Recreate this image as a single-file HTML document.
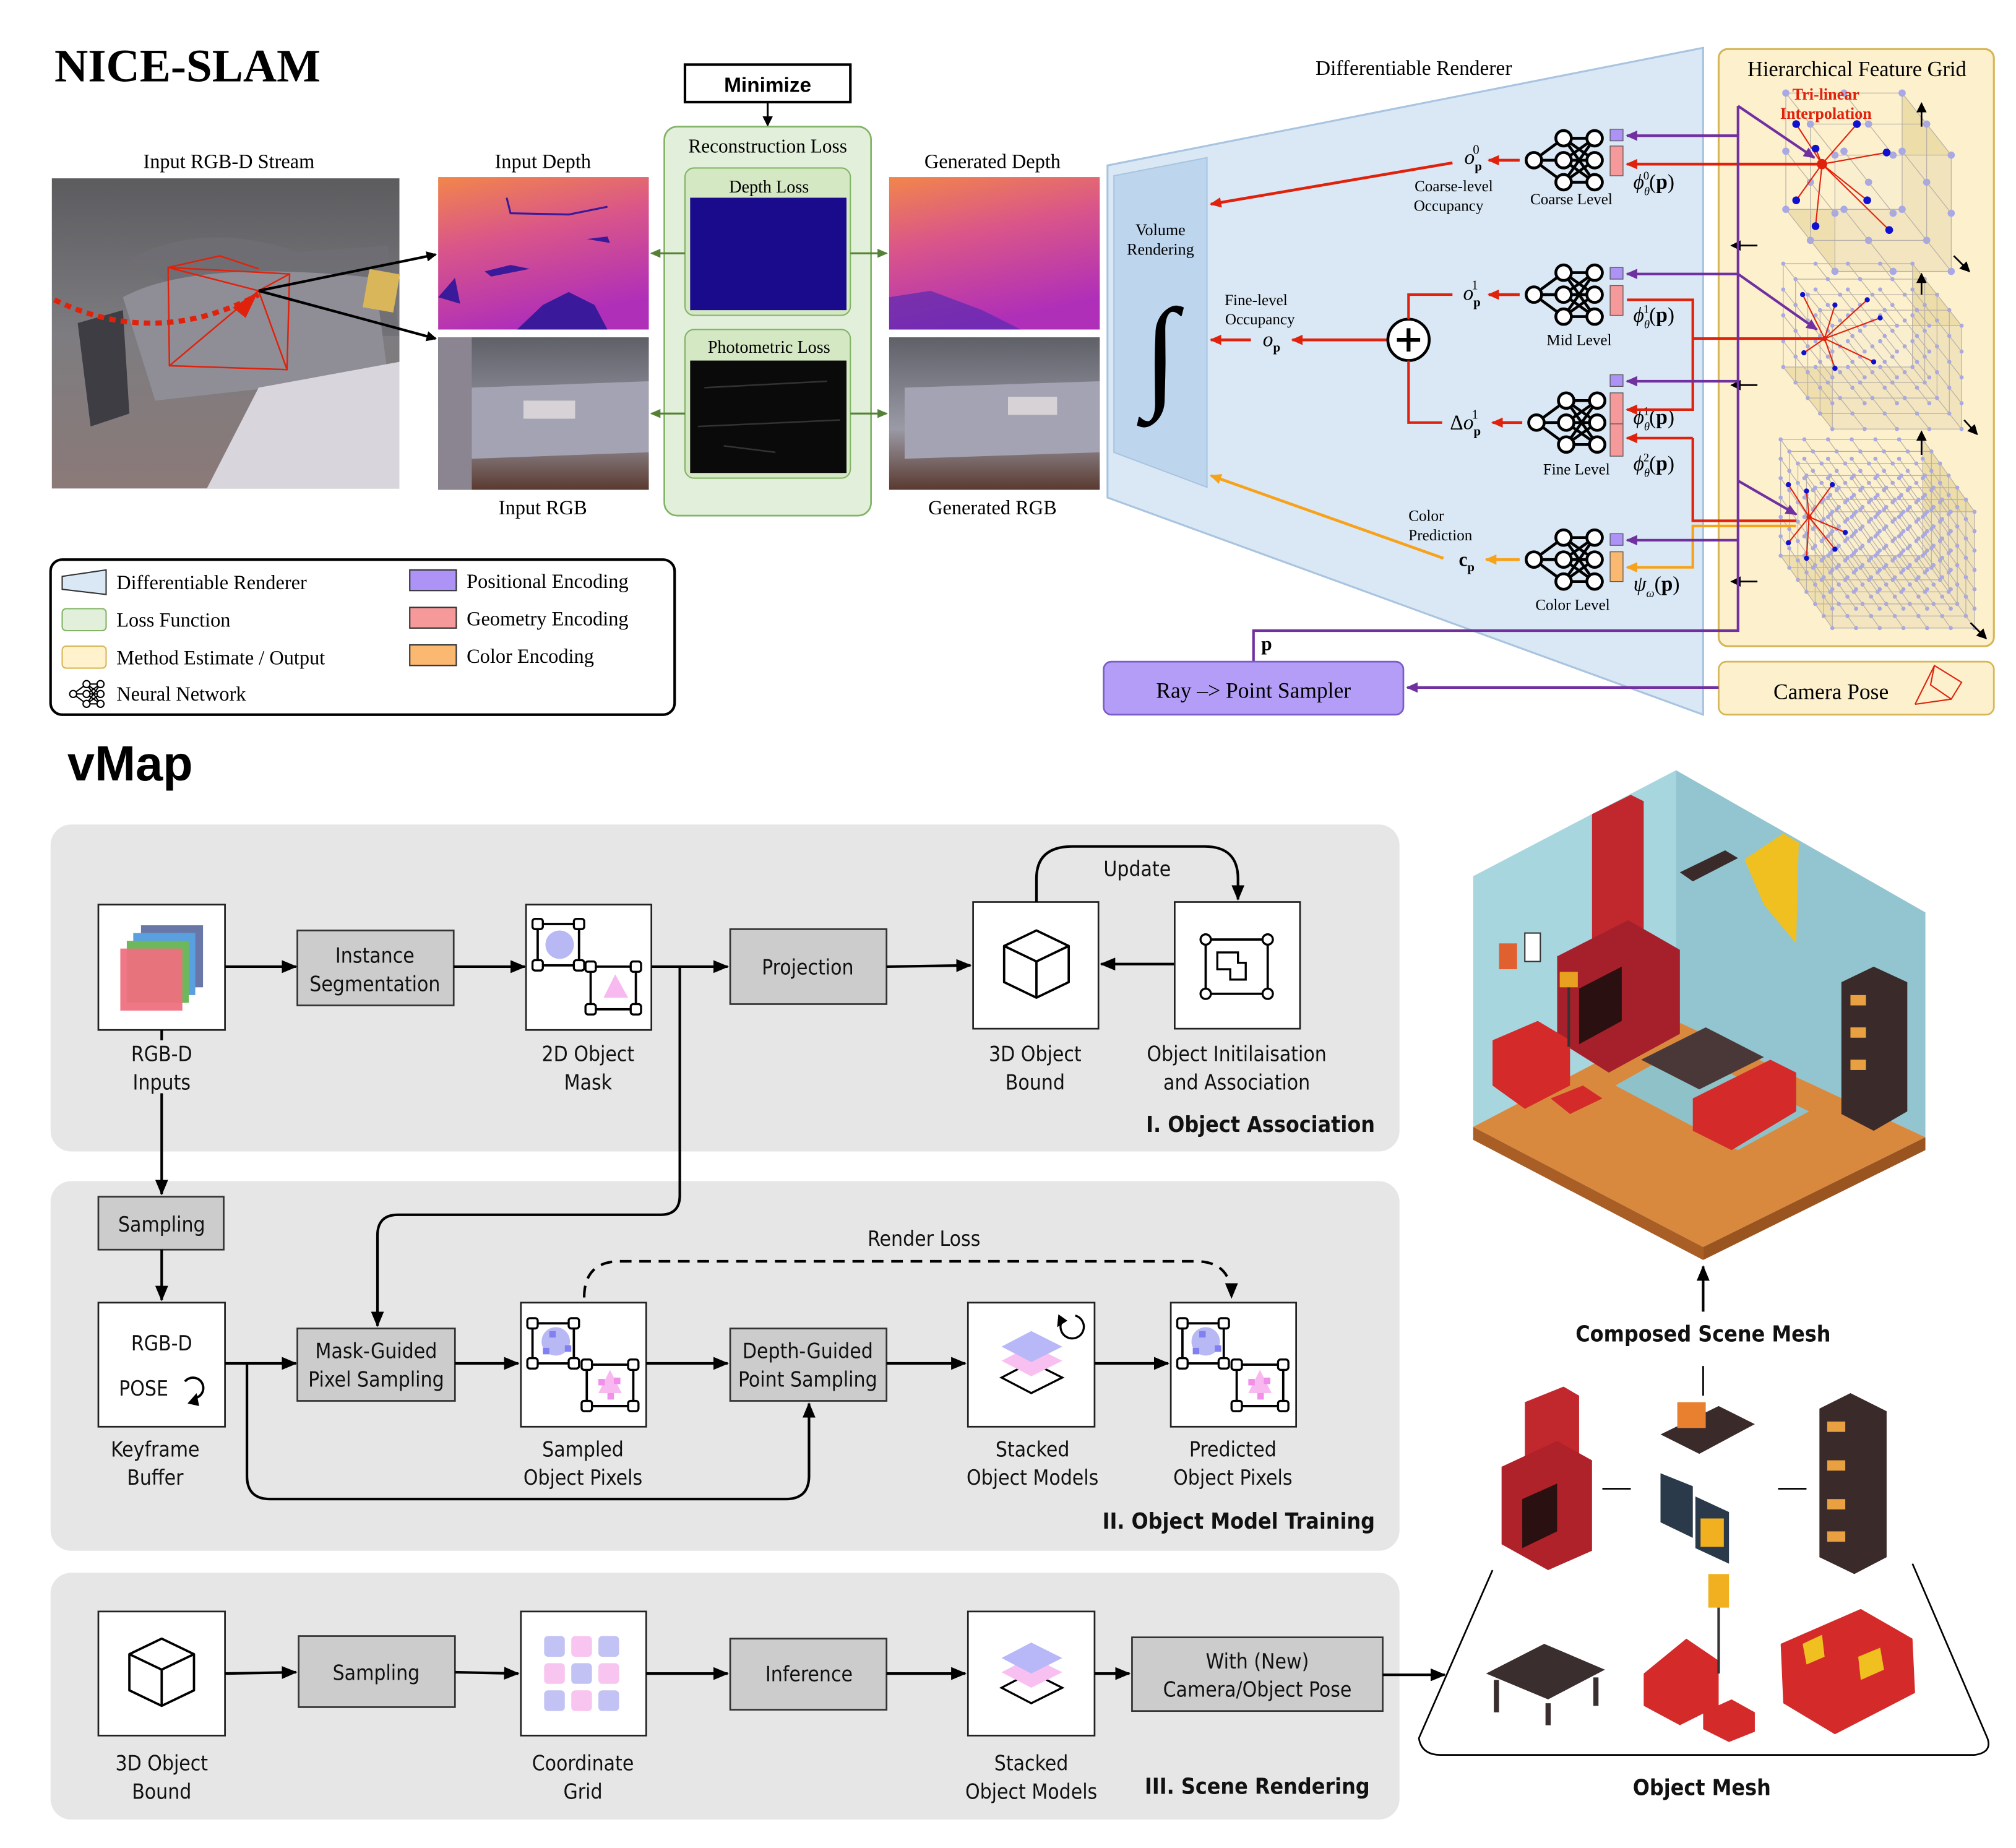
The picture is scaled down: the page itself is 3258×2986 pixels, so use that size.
<!DOCTYPE html>
<html><head><meta charset="utf-8"><style>
html,body{margin:0;padding:0;background:#fff}
svg{display:block}
.s{font-family:"Liberation Serif",serif}
.d{font-family:"DejaVu Sans Condensed","DejaVu Sans","Liberation Sans",sans-serif}
</style></head><body>
<svg id="m" xmlns="http://www.w3.org/2000/svg" width="3258" height="2986" viewBox="0 0 1560 1430">
<defs>
<marker id="ak" markerWidth="8" markerHeight="8" refX="7" refY="4" orient="auto" markerUnits="userSpaceOnUse"><path d="M0,0L8,4L0,8z" fill="#000"/></marker>
<marker id="ak2" markerWidth="12" markerHeight="10" refX="11" refY="5" orient="auto" markerUnits="userSpaceOnUse"><path d="M0,0L12,5L0,10z" fill="#000"/></marker>
<marker id="ar" markerWidth="9" markerHeight="8" refX="8" refY="4" orient="auto" markerUnits="userSpaceOnUse"><path d="M0,0L9,4L0,8z" fill="#e0220c"/></marker>
<marker id="ao" markerWidth="9" markerHeight="8" refX="8" refY="4" orient="auto" markerUnits="userSpaceOnUse"><path d="M0,0L9,4L0,8z" fill="#f7a21b"/></marker>
<marker id="ap" markerWidth="9" markerHeight="8" refX="8" refY="4" orient="auto" markerUnits="userSpaceOnUse"><path d="M0,0L9,4L0,8z" fill="#7030a0"/></marker>
<marker id="ag" markerWidth="8" markerHeight="7" refX="7" refY="3.5" orient="auto" markerUnits="userSpaceOnUse"><path d="M0,0L8,3.5L0,7z" fill="#548235"/></marker>
<linearGradient id="dep" x1="0" y1="0" x2="0.3" y2="1"><stop offset="0" stop-color="#f2864a"/><stop offset="0.45" stop-color="#d9558a"/><stop offset="1" stop-color="#b02fb8"/></linearGradient>
<linearGradient id="rgbd" x1="0" y1="0" x2="0" y2="1"><stop offset="0" stop-color="#5c5b5e"/><stop offset="0.5" stop-color="#7d7c80"/><stop offset="1" stop-color="#8b7a78"/></linearGradient>
<linearGradient id="rgb" x1="0" y1="0" x2="0" y2="1"><stop offset="0" stop-color="#5f6068"/><stop offset="0.6" stop-color="#9a9aa6"/><stop offset="1" stop-color="#5a3a30"/></linearGradient>
</defs>

<!-- ============ NICE-SLAM ============ -->
<text x="42" y="63" class="s" font-size="36" font-weight="bold">NICE-SLAM</text>
<text x="177" y="130" class="s" font-size="15.5" text-anchor="middle">Input RGB-D Stream</text>
<rect x="40" y="138" width="269" height="240" fill="url(#rgbd)"/>
<path d="M100,200 Q160,170 230,195 L300,190 L309,260 L200,260 Z" fill="#6f6e74" opacity="0.8"/>
<path d="M95,230 Q150,200 290,215 L300,290 L120,310 Z" fill="#8f8e96"/>
<path d="M200,300 L309,280 L309,378 L160,378 Z" fill="#d8d6dc"/>
<path d="M60,250 L95,240 L100,320 L70,330 Z" fill="#3e3d44"/>
<rect x="283" y="210" width="24" height="30" fill="#d9b65a" transform="rotate(10 295 225)"/>
<path d="M42,232 Q120,270 200,228" fill="none" stroke="#e0220c" stroke-width="4" stroke-dasharray="5,4"/>
<path d="M180,238 L200,225 L190,246z" fill="#e0220c"/>
<path d="M130,207 L224,212 L222,286 L131,283 Z M130,207 L200,225 L224,212 M200,225 L131,283 M200,225 L222,286 M130,207 L170,198 L200,208" fill="none" stroke="#e0220c" stroke-width="1.2"/>
<line x1="200" y1="225" x2="337" y2="197" stroke="#000" stroke-width="2" marker-end="url(#ak)"/>
<line x1="200" y1="225" x2="337" y2="262" stroke="#000" stroke-width="2" marker-end="url(#ak)"/>

<text x="420" y="130" class="s" font-size="15.5" text-anchor="middle">Input Depth</text>
<rect x="339" y="137" width="163" height="118" fill="url(#dep)"/>
<path d="M375,210 L395,205 L410,208 L380,214Z M339,230 L352,215 L356,235Z M420,236 L440,226 L460,236 L470,255 L400,255Z M454,185 L470,183 L472,188 Z" fill="#3a1a9a"/>
<path d="M392,153 L395,165 L440,166 L470,160" fill="none" stroke="#3a1a9a" stroke-width="1.5"/>
<rect x="339" y="261" width="163" height="118" fill="url(#rgb)"/>
<path d="M339,261 L365,261 L365,379 L339,379Z" fill="#8a8590"/>
<path d="M365,300 L502,295 L502,350 L365,355 Z" fill="#a3a3b3"/>
<rect x="405" y="310" width="40" height="14" fill="#d7d2d6"/>
<text x="420" y="398" class="s" font-size="15.5" text-anchor="middle">Input RGB</text>

<rect x="530" y="50" width="128" height="29" fill="#fff" stroke="#000" stroke-width="2"/>
<text x="594" y="71" font-family="Liberation Sans,sans-serif" font-weight="bold" font-size="16" text-anchor="middle">Minimize</text>
<line x1="594" y1="79" x2="594" y2="97" stroke="#000" stroke-width="1.5" marker-end="url(#ak)"/>
<rect x="514" y="98" width="160" height="301" rx="10" fill="#e2efda" stroke="#82b366" stroke-width="1.3"/>
<text x="594" y="118" class="s" font-size="15" text-anchor="middle">Reconstruction Loss</text>
<rect x="530" y="130" width="128" height="114" rx="7" fill="#d5e8c4" stroke="#82b366"/>
<text x="595" y="149" class="s" font-size="13.5" text-anchor="middle">Depth Loss</text>
<rect x="534" y="153" width="121" height="87" fill="#1a0a8c"/>
<rect x="530" y="255" width="128" height="115" rx="7" fill="#d5e8c4" stroke="#82b366"/>
<text x="595" y="273" class="s" font-size="13.5" text-anchor="middle">Photometric Loss</text>
<rect x="534" y="279" width="121" height="87" fill="#0a0a0a"/>
<path d="M545,300 L640,295 M540,330 L650,325 M560,345 L600,350" stroke="#333" stroke-width="1.2"/>
<line x1="530" y1="196" x2="504" y2="196" stroke="#548235" stroke-width="1.5" marker-end="url(#ag)"/>
<line x1="530" y1="320" x2="504" y2="320" stroke="#548235" stroke-width="1.5" marker-end="url(#ag)"/>
<line x1="658" y1="196" x2="686" y2="196" stroke="#548235" stroke-width="1.5" marker-end="url(#ag)"/>
<line x1="658" y1="320" x2="686" y2="320" stroke="#548235" stroke-width="1.5" marker-end="url(#ag)"/>

<text x="768" y="130" class="s" font-size="15.5" text-anchor="middle">Generated Depth</text>
<rect x="688" y="137" width="163" height="118" fill="url(#dep)"/>
<path d="M688,230 L720,225 L760,240 L790,255 L688,255Z" fill="#5a2ab0" opacity="0.7"/>
<rect x="688" y="261" width="163" height="118" fill="url(#rgb)"/>
<path d="M700,300 L851,295 L851,350 L700,355 Z" fill="#a3a3b3"/>
<rect x="780" y="307" width="38" height="14" fill="#d7d2d6"/>
<text x="768" y="398" class="s" font-size="15.5" text-anchor="middle">Generated RGB</text>

<!-- renderer -->
<polygon points="857,128 1318,37 1318,553 857,385" fill="#dae8f5" stroke="#a9c4e0" stroke-width="1.5"/>
<text x="1094" y="58" class="s" font-size="16" text-anchor="middle">Differentiable Renderer</text>
<polygon points="862,136 934,122 934,377 862,350" fill="#bdd6ee" stroke="#a9c4e0"/>
<text x="898" y="182" class="s" font-size="12.5" text-anchor="middle">Volume</text>
<text x="898" y="197" class="s" font-size="12.5" text-anchor="middle">Rendering</text>
<text x="898" y="305" class="s" font-size="96" font-style="italic" text-anchor="middle">∫</text>

<line x1="1124" y1="126" x2="937" y2="158" stroke="#e0220c" stroke-width="2.2" marker-end="url(#ar)"/>
<text x="1140" y="127" class="s" font-size="16" font-style="italic" text-anchor="middle">o<tspan font-size="10" font-style="normal" font-weight="bold" dy="5">p</tspan><tspan font-size="10" font-style="normal" dx="-7" dy="-13">0</tspan></text>
<line x1="1176" y1="124" x2="1152" y2="124" stroke="#e0220c" stroke-width="2.2" marker-end="url(#ar)"/>
<text x="1125" y="148" class="s" font-size="12" text-anchor="middle">Coarse-level</text>
<text x="1121" y="163" class="s" font-size="12" text-anchor="middle">Occupancy</text>
<text x="1216" y="158" class="s" font-size="12" text-anchor="middle">Coarse Level</text>

<text x="972" y="236" class="s" font-size="12" text-anchor="middle">Fine-level</text>
<text x="975" y="251" class="s" font-size="12" text-anchor="middle">Occupancy</text>
<text x="984" y="268" class="s" font-size="16" font-style="italic" text-anchor="middle">o<tspan font-size="10" font-style="normal" font-weight="bold" dy="4">p</tspan></text>
<line x1="968" y1="263" x2="937" y2="263" stroke="#e0220c" stroke-width="2.2" marker-end="url(#ar)"/>
<line x1="1074" y1="263" x2="1000" y2="263" stroke="#e0220c" stroke-width="2.2" marker-end="url(#ar)"/>
<circle cx="1090" cy="263" r="16" fill="#fff" stroke="#000" stroke-width="2.2"/>
<path d="M1090,254V272M1081,263H1099" stroke="#000" stroke-width="3"/>
<path d="M1090,247 V228 H1124 M1090,279 V327 H1116" fill="none" stroke="#e0220c" stroke-width="2"/>
<text x="1139" y="232" class="s" font-size="16" font-style="italic" text-anchor="middle">o<tspan font-size="10" font-style="normal" font-weight="bold" dy="5">p</tspan><tspan font-size="10" font-style="normal" dx="-7" dy="-13">1</tspan></text>
<line x1="1176" y1="228" x2="1152" y2="228" stroke="#e0220c" stroke-width="2.2" marker-end="url(#ar)"/>
<text x="1134" y="332" class="s" font-size="16" text-anchor="middle">Δ<tspan font-style="italic">o</tspan><tspan font-size="10" font-weight="bold" dy="5">p</tspan><tspan font-size="10" dx="-7" dy="-13">1</tspan></text>
<line x1="1178" y1="327" x2="1155" y2="327" stroke="#e0220c" stroke-width="2.2" marker-end="url(#ar)"/>
<text x="1222" y="267" class="s" font-size="12" text-anchor="middle">Mid Level</text>
<text x="1220" y="367" class="s" font-size="12" text-anchor="middle">Fine Level</text>

<line x1="1117" y1="432" x2="937" y2="368" stroke="#f7a21b" stroke-width="2.2" marker-end="url(#ao)"/>
<text x="1090" y="403" class="s" font-size="12">Color</text>
<text x="1090" y="418" class="s" font-size="12">Prediction</text>
<text x="1135" y="438" class="s" font-size="15" font-weight="bold" text-anchor="middle">c<tspan font-size="10" dy="4">p</tspan></text>
<line x1="1176" y1="433" x2="1150" y2="433" stroke="#f7a21b" stroke-width="2.2" marker-end="url(#ao)"/>
<text x="1217" y="472" class="s" font-size="12" text-anchor="middle">Color Level</text>

<g id="nns"></g>

<rect x="1246" y="100" width="10" height="9" fill="#ac93f5" stroke="#555" stroke-width="0.6"/>
<rect x="1246" y="113" width="10" height="23" fill="#f5999b" stroke="#555" stroke-width="0.6"/>
<rect x="1246" y="207" width="10" height="9" fill="#ac93f5" stroke="#555" stroke-width="0.6"/>
<rect x="1246" y="221" width="10" height="23" fill="#f5999b" stroke="#555" stroke-width="0.6"/>
<rect x="1246" y="290" width="10" height="9" fill="#ac93f5" stroke="#555" stroke-width="0.6"/>
<rect x="1246" y="304" width="10" height="49" fill="#f5999b" stroke="#555" stroke-width="0.6"/>
<line x1="1246" y1="328" x2="1256" y2="328" stroke="#555" stroke-width="0.6"/>
<rect x="1246" y="413" width="10" height="9" fill="#ac93f5" stroke="#555" stroke-width="0.6"/>
<rect x="1246" y="427" width="10" height="23" fill="#fbb870" stroke="#555" stroke-width="0.6"/>
<text x="1264" y="146" class="s" font-size="16"><tspan font-style="italic">ϕ</tspan><tspan font-size="9" dy="5" font-style="italic">θ</tspan><tspan font-size="9" dx="-5" dy="-12">0</tspan><tspan dy="7">(</tspan><tspan font-weight="bold">p</tspan>)</text>
<text x="1264" y="249" class="s" font-size="16"><tspan font-style="italic">ϕ</tspan><tspan font-size="9" dy="5" font-style="italic">θ</tspan><tspan font-size="9" dx="-5" dy="-12">1</tspan><tspan dy="7">(</tspan><tspan font-weight="bold">p</tspan>)</text>
<text x="1264" y="328" class="s" font-size="16"><tspan font-style="italic">ϕ</tspan><tspan font-size="9" dy="5" font-style="italic">θ</tspan><tspan font-size="9" dx="-5" dy="-12">1</tspan><tspan dy="7">(</tspan><tspan font-weight="bold">p</tspan>)</text>
<text x="1264" y="364" class="s" font-size="16"><tspan font-style="italic">ϕ</tspan><tspan font-size="9" dy="5" font-style="italic">θ</tspan><tspan font-size="9" dx="-5" dy="-12">2</tspan><tspan dy="7">(</tspan><tspan font-weight="bold">p</tspan>)</text>
<text x="1264" y="457" class="s" font-size="16"><tspan font-style="italic">ψ</tspan><tspan font-size="9" dy="5" font-style="italic">ω</tspan><tspan dy="-5">(</tspan><tspan font-weight="bold">p</tspan>)</text>

<!-- feature grid -->
<rect x="1330" y="38" width="213" height="462" rx="7" fill="#fdf0cd" stroke="#d6b656" stroke-width="1.5"/>
<text x="1437" y="59" class="s" font-size="16.5" text-anchor="middle">Hierarchical Feature Grid</text>
<g id="cubes"></g>
<text x="1413" y="77" class="s" font-size="12.5" font-weight="bold" fill="#e0220c" text-anchor="middle">Tri-linear</text>
<text x="1413" y="92" class="s" font-size="12.5" font-weight="bold" fill="#e0220c" text-anchor="middle">Interpolation</text>

<!-- red feature lines -->
<path d="M1410,127 H1259" fill="none" stroke="#e0220c" stroke-width="2.2" marker-end="url(#ar)"/>
<path d="M1410,262 H1310 V232 H1259 M1310,262 V317 H1259" fill="none" stroke="#e0220c" stroke-width="2" marker-end="url(#ar)"/>
<path d="M1310,339 H1259" fill="none" stroke="#e0220c" stroke-width="2" marker-end="url(#ar)"/>
<path d="M1390,403 H1310 V339" fill="none" stroke="#e0220c" stroke-width="2"/>
<path d="M1390,407 H1310 V439 H1259" fill="none" stroke="#f7a21b" stroke-width="2" marker-end="url(#ao)"/>
<!-- purple -->
<path d="M1345,82 V488 H970 V512" fill="none" stroke="#7030a0" stroke-width="2"/>
<path d="M1345,105 H1259" fill="none" stroke="#7030a0" stroke-width="2" marker-end="url(#ap)"/>
<path d="M1345,212 H1259" fill="none" stroke="#7030a0" stroke-width="2" marker-end="url(#ap)"/>
<path d="M1345,295 H1259" fill="none" stroke="#7030a0" stroke-width="2" marker-end="url(#ap)"/>
<path d="M1345,418 H1259" fill="none" stroke="#7030a0" stroke-width="2" marker-end="url(#ap)"/>
<path d="M1345,82 L1404,122" stroke="#7030a0" stroke-width="2" marker-end="url(#ap)"/>
<path d="M1345,212 L1406,255" stroke="#7030a0" stroke-width="2" marker-end="url(#ap)"/>
<path d="M1345,372 L1390,398" stroke="#7030a0" stroke-width="2" marker-end="url(#ap)"/>
<text x="976" y="503" class="s" font-size="15" font-weight="bold">p</text>
<rect x="854" y="512" width="232" height="41" rx="6" fill="#b39df6" stroke="#7b5cc9" stroke-width="1.3"/>
<text x="970" y="540" class="s" font-size="17" text-anchor="middle">Ray –&gt; Point Sampler</text>
<rect x="1330" y="512" width="213" height="41" rx="6" fill="#fdf0cd" stroke="#d6b656" stroke-width="1.3"/>
<text x="1417" y="541" class="s" font-size="17" text-anchor="middle">Camera Pose</text>
<path d="M1497,515 L1518,528 L1510,541 L1494,530 Z M1482,545 L1497,515 M1482,545 L1510,541" fill="none" stroke="#e0220c" stroke-width="1"/>
<line x1="1330" y1="532" x2="1089" y2="532" stroke="#7030a0" stroke-width="2" marker-end="url(#ap)"/>

<!-- legend -->
<rect x="39" y="433" width="483" height="120" rx="9" fill="#fff" stroke="#000" stroke-width="2"/>
<polygon points="48,446 82,441 82,460 48,456" fill="#dae8f5" stroke="#333"/>
<rect x="48" y="471" width="34" height="17" rx="3" fill="#e2efda" stroke="#82b366"/>
<rect x="48" y="500" width="34" height="17" rx="3" fill="#fff2cc" stroke="#d6b656"/>
<g id="lnn"></g>
<rect x="317" y="441" width="36" height="16" fill="#ac93f5" stroke="#333"/>
<rect x="317" y="470" width="36" height="16" fill="#f5999b" stroke="#333"/>
<rect x="317" y="499" width="36" height="16" fill="#fbb870" stroke="#333"/>
<g class="s" font-size="15.5">
<text x="90" y="456">Differentiable Renderer</text>
<text x="90" y="485">Loss Function</text>
<text x="90" y="514">Method Estimate / Output</text>
<text x="90" y="542">Neural Network</text>
<text x="361" y="455">Positional Encoding</text>
<text x="361" y="484">Geometry Encoding</text>
<text x="361" y="513">Color Encoding</text>
</g>

<!-- ============ vMap ============ -->
<text x="52" y="604" font-family="Liberation Sans,sans-serif" font-size="38" font-weight="bold">vMap</text>
<rect x="39" y="638" width="1044" height="253" rx="16" fill="#e6e6e6"/>
<rect x="39" y="914" width="1044" height="286" rx="16" fill="#e6e6e6"/>
<rect x="39" y="1217" width="1044" height="191" rx="16" fill="#e6e6e6"/>

<g class="d" font-size="16" text-anchor="middle" fill="#111">
<!-- row I -->
<rect x="76" y="700" width="98" height="97" fill="#fff" stroke="#222" stroke-width="1.3"/>
<rect x="109" y="716" width="48" height="48" fill="#6877a8"/>
<rect x="103" y="722" width="48" height="48" fill="#5aa0e0"/>
<rect x="98" y="728" width="48" height="48" fill="#6cb85a"/>
<rect x="93" y="734" width="48" height="48" fill="#ee7080" opacity="0.95"/>
<text x="125" y="821">RGB-D</text><text x="125" y="843">Inputs</text>
<rect x="230" y="720" width="121" height="58" fill="#cccccc" stroke="#333" stroke-width="1.3"/>
<text x="290" y="745">Instance</text><text x="290" y="767">Segmentation</text>
<line x1="174" y1="748" x2="229" y2="748" stroke="#000" stroke-width="2" marker-end="url(#ak2)"/>
<line x1="351" y1="748" x2="406" y2="748" stroke="#000" stroke-width="2" marker-end="url(#ak2)"/>
<rect x="407" y="700" width="97" height="97" fill="#fff" stroke="#222" stroke-width="1.3"/>
<circle cx="433" cy="731" r="11" fill="#b8b8f4"/>
<rect x="416" y="715" width="32" height="32" fill="none" stroke="#000" stroke-width="1.8"/>
<polygon points="476,754 467,772 486,772" fill="#f8b8f0"/>
<rect x="457" y="748" width="35" height="33" fill="none" stroke="#000" stroke-width="1.8"/>
<g fill="#fff" stroke="#000" stroke-width="1.6"><rect x="412" y="711" width="8" height="8" rx="2"/><rect x="444" y="711" width="8" height="8" rx="2"/><rect x="412" y="743" width="8" height="8" rx="2"/><rect x="444" y="743" width="8" height="8" rx="2"/><rect x="453" y="744" width="8" height="8" rx="2"/><rect x="488" y="744" width="8" height="8" rx="2"/><rect x="453" y="777" width="8" height="8" rx="2"/><rect x="488" y="777" width="8" height="8" rx="2"/></g>
<text x="455" y="821">2D Object</text><text x="455" y="843">Mask</text>
<line x1="504" y1="748" x2="563" y2="748" stroke="#000" stroke-width="2" marker-end="url(#ak2)"/>
<rect x="565" y="719" width="121" height="58" fill="#cccccc" stroke="#333" stroke-width="1.3"/>
<text x="625" y="754">Projection</text>
<line x1="686" y1="748" x2="751" y2="747" stroke="#000" stroke-width="2" marker-end="url(#ak2)"/>
<rect x="753" y="698" width="97" height="98" fill="#fff" stroke="#222" stroke-width="1.3"/>
<path d="M777,732 L802,720 L827,732 L827,760 L802,772 L777,760 Z M777,732 L802,744 L827,732 M802,744 V772" fill="none" stroke="#000" stroke-width="1.8" stroke-linejoin="round"/>
<text x="801" y="821">3D Object</text><text x="801" y="843">Bound</text>
<line x1="909" y1="746" x2="852" y2="746" stroke="#000" stroke-width="2" marker-end="url(#ak2)"/>
<rect x="909" y="698" width="97" height="98" fill="#fff" stroke="#222" stroke-width="1.3"/>
<rect x="933" y="727" width="48" height="42" fill="none" stroke="#000" stroke-width="1.8"/>
<path d="M942,737 H958 V745 H964 V758 H952 V750 H942 Z" fill="none" stroke="#000" stroke-width="1.6"/>
<g fill="#fff" stroke="#000" stroke-width="1.6"><circle cx="933" cy="727" r="4"/><circle cx="981" cy="727" r="4"/><circle cx="933" cy="769" r="4"/><circle cx="981" cy="769" r="4"/></g>
<text x="957" y="821">Object Initilaisation</text><text x="957" y="843">and Association</text>
<path d="M802,698 V680 Q802,655 830,655 H932 Q958,655 958,680 V696" fill="none" stroke="#000" stroke-width="2" marker-end="url(#ak2)"/>
<text x="880" y="678">Update</text>
<text x="1064" y="876" text-anchor="end" font-weight="bold" font-size="17">I. Object Association</text>

<!-- row II -->
<line x1="125" y1="846" x2="125" y2="924" stroke="#000" stroke-width="2" marker-end="url(#ak2)"/>
<line x1="125" y1="797" x2="125" y2="805" stroke="#000" stroke-width="2"/>
<rect x="76" y="926" width="97" height="41" fill="#cccccc" stroke="#333" stroke-width="1.3"/>
<text x="125" y="953">Sampling</text>
<line x1="125" y1="967" x2="125" y2="1006" stroke="#000" stroke-width="2" marker-end="url(#ak2)"/>
<rect x="76" y="1008" width="98" height="96" fill="#fff" stroke="#222" stroke-width="1.3"/>
<text x="125" y="1045">RGB-D</text>
<text x="111" y="1080">POSE</text>
<path d="M150,1082 A8,8 0 1 0 143,1069" fill="none" stroke="#000" stroke-width="1.8"/>
<path d="M145,1086 L152,1078 L154,1088Z" fill="#000"/>
<text x="120" y="1127">Keyframe</text><text x="120" y="1149">Buffer</text>
<path d="M526,748 V925 Q526,940 511,940 H308 Q292,940 292,956 V1026" fill="none" stroke="#000" stroke-width="2" marker-end="url(#ak2)"/>
<line x1="174" y1="1055" x2="229" y2="1055" stroke="#000" stroke-width="2" marker-end="url(#ak2)"/>
<rect x="230" y="1028" width="122" height="56" fill="#cccccc" stroke="#333" stroke-width="1.3"/>
<text x="291" y="1051">Mask-Guided</text><text x="291" y="1073">Pixel Sampling</text>
<line x1="352" y1="1055" x2="401" y2="1055" stroke="#000" stroke-width="2" marker-end="url(#ak2)"/>
<rect x="403" y="1008" width="97" height="96" fill="#fff" stroke="#222" stroke-width="1.3"/>
<circle cx="430" cy="1038" r="11" fill="#b8b8f4"/>
<g fill="#8080f0"><rect x="425" y="1030" width="5" height="5"/><rect x="420" y="1043" width="5" height="5"/><rect x="437" y="1041" width="5" height="5"/></g>
<rect x="412" y="1024" width="32" height="31" fill="none" stroke="#000" stroke-width="1.8"/>
<polygon points="472,1060 463,1078 481,1078" fill="#f8b8f0"/>
<g fill="#f090e8"><rect x="463" y="1067" width="5" height="5"/><rect x="475" y="1066" width="5" height="5"/><rect x="470" y="1078" width="5" height="5"/></g>
<rect x="454" y="1056" width="36" height="32" fill="none" stroke="#000" stroke-width="1.8"/>
<g fill="#fff" stroke="#000" stroke-width="1.6"><rect x="408" y="1020" width="8" height="8" rx="2"/><rect x="440" y="1020" width="8" height="8" rx="2"/><rect x="408" y="1051" width="8" height="8" rx="2"/><rect x="440" y="1051" width="8" height="8" rx="2"/><rect x="450" y="1052" width="8" height="8" rx="2"/><rect x="486" y="1052" width="8" height="8" rx="2"/><rect x="450" y="1084" width="8" height="8" rx="2"/><rect x="486" y="1084" width="8" height="8" rx="2"/></g>
<text x="451" y="1127">Sampled</text><text x="451" y="1149">Object Pixels</text>
<line x1="500" y1="1055" x2="563" y2="1055" stroke="#000" stroke-width="2" marker-end="url(#ak2)"/>
<rect x="565" y="1028" width="121" height="56" fill="#cccccc" stroke="#333" stroke-width="1.3"/>
<text x="625" y="1051">Depth-Guided</text><text x="625" y="1073">Point Sampling</text>
<path d="M191,1055 V1142 Q191,1160 209,1160 H608 Q626,1160 626,1142 V1086" fill="none" stroke="#000" stroke-width="2" marker-end="url(#ak2)"/>
<line x1="686" y1="1055" x2="747" y2="1055" stroke="#000" stroke-width="2" marker-end="url(#ak2)"/>
<rect x="749" y="1008" width="98" height="96" fill="#fff" stroke="#222" stroke-width="1.3"/>
<path d="M775,1066 L798,1054 L822,1066 L798,1078 Z" fill="none" stroke="#000" stroke-width="1.6"/>
<path d="M775,1053 L798,1041 L822,1053 L798,1065 Z" fill="#f8c0f0"/>
<path d="M775,1042 L798,1030 L822,1042 L798,1054 Z" fill="#b8b8f8"/>
<path d="M832,1018 A9,9 0 1 1 822,1022" fill="none" stroke="#000" stroke-width="1.6"/>
<path d="M819,1017 L826,1022 L818,1027Z" fill="#000"/>
<text x="799" y="1127">Stacked</text><text x="799" y="1149">Object Models</text>
<line x1="847" y1="1055" x2="904" y2="1055" stroke="#000" stroke-width="2" marker-end="url(#ak2)"/>
<rect x="906" y="1008" width="97" height="96" fill="#fff" stroke="#222" stroke-width="1.3"/>
<circle cx="933" cy="1038" r="11" fill="#b8b8f4"/>
<g fill="#8080f0"><rect x="928" y="1030" width="5" height="5"/><rect x="923" y="1043" width="5" height="5"/><rect x="940" y="1041" width="5" height="5"/></g>
<rect x="915" y="1024" width="32" height="31" fill="none" stroke="#000" stroke-width="1.8"/>
<polygon points="975,1060 966,1078 984,1078" fill="#f8b8f0"/>
<g fill="#f090e8"><rect x="966" y="1067" width="5" height="5"/><rect x="978" y="1066" width="5" height="5"/><rect x="973" y="1078" width="5" height="5"/></g>
<rect x="957" y="1056" width="36" height="32" fill="none" stroke="#000" stroke-width="1.8"/>
<g fill="#fff" stroke="#000" stroke-width="1.6"><rect x="911" y="1020" width="8" height="8" rx="2"/><rect x="943" y="1020" width="8" height="8" rx="2"/><rect x="911" y="1051" width="8" height="8" rx="2"/><rect x="943" y="1051" width="8" height="8" rx="2"/><rect x="953" y="1052" width="8" height="8" rx="2"/><rect x="989" y="1052" width="8" height="8" rx="2"/><rect x="953" y="1084" width="8" height="8" rx="2"/><rect x="989" y="1084" width="8" height="8" rx="2"/></g>
<text x="954" y="1127">Predicted</text><text x="954" y="1149">Object Pixels</text>
<path d="M452,1004 Q452,976 480,976 H925 Q953,976 953,1004" fill="none" stroke="#000" stroke-width="2" stroke-dasharray="9,6" marker-end="url(#ak2)"/>
<text x="715" y="964">Render Loss</text>
<text x="1064" y="1183" text-anchor="end" font-weight="bold" font-size="17">II. Object Model Training</text>

<!-- row III -->
<rect x="76" y="1247" width="98" height="96" fill="#fff" stroke="#222" stroke-width="1.3"/>
<path d="M100,1280 L125,1268 L150,1280 L150,1308 L125,1320 L100,1308 Z M100,1280 L125,1292 L150,1280 M125,1292 V1320" fill="none" stroke="#000" stroke-width="1.8" stroke-linejoin="round"/>
<text x="125" y="1370">3D Object</text><text x="125" y="1392">Bound</text>
<line x1="174" y1="1295" x2="229" y2="1294" stroke="#000" stroke-width="2" marker-end="url(#ak2)"/>
<rect x="231" y="1266" width="121" height="55" fill="#cccccc" stroke="#333" stroke-width="1.3"/>
<text x="291" y="1300">Sampling</text>
<line x1="352" y1="1294" x2="401" y2="1295" stroke="#000" stroke-width="2" marker-end="url(#ak2)"/>
<rect x="403" y="1247" width="97" height="96" fill="#fff" stroke="#222" stroke-width="1.3"/>
<g id="cgrid"></g>
<text x="451" y="1370">Coordinate</text><text x="451" y="1392">Grid</text>
<line x1="500" y1="1295" x2="563" y2="1295" stroke="#000" stroke-width="2" marker-end="url(#ak2)"/>
<rect x="565" y="1268" width="121" height="55" fill="#cccccc" stroke="#333" stroke-width="1.3"/>
<text x="626" y="1301">Inference</text>
<line x1="686" y1="1295" x2="747" y2="1295" stroke="#000" stroke-width="2" marker-end="url(#ak2)"/>
<rect x="749" y="1247" width="98" height="96" fill="#fff" stroke="#222" stroke-width="1.3"/>
<path d="M775,1306 L798,1294 L822,1306 L798,1318 Z" fill="none" stroke="#000" stroke-width="1.6"/>
<path d="M775,1294 L798,1282 L822,1294 L798,1306 Z" fill="#f8c0f0"/>
<path d="M775,1283 L798,1271 L822,1283 L798,1295 Z" fill="#b8b8f8"/>
<text x="798" y="1370">Stacked</text><text x="798" y="1392">Object Models</text>
<line x1="847" y1="1295" x2="874" y2="1295" stroke="#000" stroke-width="2" marker-end="url(#ak2)"/>
<rect x="876" y="1267" width="194" height="57" fill="#cccccc" stroke="#333" stroke-width="1.3"/>
<text x="973" y="1291">With (New)</text><text x="973" y="1313">Camera/Object Pose</text>
<line x1="1070" y1="1296" x2="1118" y2="1296" stroke="#000" stroke-width="2" marker-end="url(#ak2)"/>
<text x="1060" y="1388" text-anchor="end" font-weight="bold" font-size="17">III. Scene Rendering</text>

<text x="1318" y="1038" font-weight="bold" font-size="17">Composed Scene Mesh</text>
<text x="1317" y="1389" font-weight="bold" font-size="17">Object Mesh</text>
</g>
<line x1="1318" y1="1015" x2="1318" y2="980" stroke="#000" stroke-width="2" marker-end="url(#ak2)"/>

<!-- room -->
<polygon points="1140,678 1297,596 1297,790 1140,872" fill="#a7d6df"/>
<polygon points="1297,596 1490,706 1490,880 1297,790" fill="#92c5d0"/>
<polygon points="1140,872 1297,790 1490,880 1318,965" fill="#d8893e"/>
<polygon points="1140,872 1318,965 1318,975 1140,882" fill="#a85e25"/>
<polygon points="1318,965 1490,880 1490,890 1318,975" fill="#9a5420"/>
<polygon points="1250,840 1300,812 1400,860 1345,890" fill="#8fc2c8"/>
<polygon points="1232,630 1262,615 1272,620 1272,760 1232,780" fill="#c0282d"/>
<polygon points="1205,740 1260,712 1300,735 1300,800 1245,830 1205,805" fill="#a5202a"/>
<polygon points="1222,765 1255,748 1255,790 1222,808" fill="#2a1010"/>
<polygon points="1270,820 1320,795 1365,818 1315,843" fill="#4a3838"/>
<polygon points="1310,850 1370,820 1390,830 1390,860 1340,890 1310,875" fill="#d42a2a"/>
<polygon points="1155,805 1190,790 1215,805 1215,840 1180,858 1155,840" fill="#d42a2a"/>
<polygon points="1200,850 1225,840 1240,850 1215,862" fill="#d42a2a"/>
<polygon points="1425,760 1450,748 1476,760 1476,860 1450,875 1425,862" fill="#3a2a2a"/>
<g fill="#e8a040"><rect x="1432" y="770" width="12" height="8"/><rect x="1432" y="795" width="12" height="8"/><rect x="1432" y="820" width="12" height="8"/></g>
<polygon points="1350,665 1380,645 1392,652 1390,730 1365,700" fill="#f0c020"/>
<polygon points="1300,675 1335,658 1345,664 1310,682" fill="#3a2a2a"/>
<rect x="1160" y="730" width="14" height="20" fill="#e06030"/>
<rect x="1180" y="722" width="12" height="22" fill="#fff" stroke="#333"/>
<rect x="1207" y="752" width="14" height="12" fill="#e8a020"/>
<line x1="1214" y1="764" x2="1214" y2="810" stroke="#333" stroke-width="2"/>

<!-- object mesh -->
<path d="M1155,1215 L1098,1345 Q1100,1358 1115,1358 L1528,1358 Q1542,1356 1538,1345 L1480,1210" fill="none" stroke="#000" stroke-width="1.3"/>
<line x1="1240" y1="1152" x2="1262" y2="1152" stroke="#000" stroke-width="1.3"/>
<line x1="1376" y1="1152" x2="1398" y2="1152" stroke="#000" stroke-width="1.3"/>
<line x1="1318" y1="1057" x2="1318" y2="1080" stroke="#000" stroke-width="1.3"/>
<polygon points="1180,1085 1210,1073 1222,1080 1222,1140 1180,1158" fill="#c0282d"/>
<polygon points="1162,1135 1205,1115 1232,1130 1232,1200 1198,1215 1162,1195" fill="#b0222a"/>
<polygon points="1178,1160 1205,1148 1205,1185 1178,1198" fill="#2a1010"/>
<polygon points="1285,1110 1330,1088 1358,1102 1315,1125" fill="#3a2a2a"/>
<rect x="1298" y="1085" width="22" height="20" fill="#e88030"/>
<polygon points="1285,1140 1310,1150 1310,1190 1285,1178" fill="#2a3a4a"/>
<polygon points="1312,1158 1338,1170 1338,1210 1312,1198" fill="#2a3a4a"/>
<rect x="1316" y="1175" width="18" height="22" fill="#f0b020"/>
<polygon points="1408,1090 1432,1078 1460,1092 1460,1205 1435,1218 1408,1205" fill="#3a2a2a"/>
<g fill="#e8a040"><rect x="1414" y="1100" width="14" height="8"/><rect x="1414" y="1130" width="14" height="8"/><rect x="1414" y="1160" width="14" height="8"/><rect x="1414" y="1185" width="14" height="8"/></g>
<polygon points="1150,1295 1195,1272 1242,1292 1198,1315" fill="#3a2e2e"/>
<path d="M1158,1300 V1325 M1198,1318 V1335 M1235,1298 V1320" stroke="#3a2e2e" stroke-width="4"/>
<polygon points="1272,1295 1305,1268 1330,1285 1330,1320 1300,1335 1272,1320" fill="#d42a2a"/>
<polygon points="1318,1325 1340,1315 1358,1325 1358,1340 1338,1348 1318,1338" fill="#d42a2a"/>
<rect x="1322" y="1218" width="16" height="26" fill="#f0b020"/>
<line x1="1330" y1="1244" x2="1330" y2="1295" stroke="#333" stroke-width="2"/>
<polygon points="1378,1272 1440,1245 1480,1268 1482,1310 1420,1342 1380,1318" fill="#d42a2a"/>
<polygon points="1395,1272 1410,1265 1412,1282 1398,1288" fill="#f0c020"/>
<polygon points="1438,1282 1455,1275 1458,1292 1440,1300" fill="#f0c020"/>
</svg>
<script>
var NS="http://www.w3.org/2000/svg",S=document.getElementById("m");
function el(p,t,a){var e=document.createElementNS(NS,t);for(var k in a)e.setAttribute(k,a[k]);p.appendChild(e);return e;}
function nn(g,cx,cy,s,sw){var L=[[cx-30*s,cy]],M=[],R=[];for(var i=-1;i<=1;i++){M.push([cx-7*s,cy+i*17*s]);R.push([cx+17*s,cy+i*17*s]);}
M.forEach(function(m){el(g,"line",{x1:L[0][0],y1:L[0][1],x2:m[0],y2:m[1],stroke:"#000","stroke-width":sw});R.forEach(function(r){el(g,"line",{x1:m[0],y1:m[1],x2:r[0],y2:r[1],stroke:"#000","stroke-width":sw});});});
L.concat(M,R).forEach(function(p){el(g,"circle",{cx:p[0],cy:p[1],r:6*s,fill:"#fff",stroke:"#000","stroke-width":sw});});}
var g=document.getElementById("nns");[[1217,124],[1217,228],[1219,327],[1217,433]].forEach(function(p){nn(g,p[0],p[1],1,2.2);});
nn(document.getElementById("lnn"),70,537,0.45,1);
function cube(x,y,w,h,dx,dy,n,pts){var g=document.getElementById("cubes");
el(g,"polygon",{points:[x+w,y,x+w+dx,y+dy,x+w+dx,y+h+dy,x+w,y+h].join(","),fill:"#e6d49a",opacity:0.7});
el(g,"polygon",{points:[x,y+h,x+w,y+h,x+w+dx,y+h+dy,x+dx,y+h+dy].join(","),fill:"#e6d49a",opacity:0.6});
el(g,"rect",{x:x+dx,y:y+dy,width:w,height:h,fill:"#f5ecd0",opacity:0.5});
for(var k=0;k<=n;k++){var f=k/n,ox=dx*f,oy=dy*f;
el(g,"rect",{x:x+ox,y:y+oy,width:w,height:h,fill:"none",stroke:"#b8b0a8","stroke-width":0.6});
for(var i=0;i<=n;i++){for(var j=0;j<=n;j++){el(g,"circle",{cx:x+ox+w*i/n,cy:y+oy+h*j/n,r:n>3?1.6:2.8,fill:"#a8a8e8"});}}}
for(var i=0;i<=n;i++)for(var j=0;j<=n;j++){el(g,"line",{x1:x+w*i/n,y1:y+h*j/n,x2:x+w*i/n+dx,y2:y+h*j/n+dy,stroke:"#b8b0a8","stroke-width":0.6});}
var c=pts[0];pts.slice(1).forEach(function(p){el(g,"line",{x1:c[0],y1:c[1],x2:p[0],y2:p[1],stroke:"#e0220c","stroke-width":1});el(g,"circle",{cx:p[0],cy:p[1],r:n>3?2:3,fill:"#1010d0"});});
el(g,"circle",{cx:c[0],cy:c[1],r:n>3?2:4,fill:"#e0220c"});}
cube(1382,72,90,90,38,48,2,[[1410,127],[1390,96],[1437,96],[1405,115],[1460,118],[1390,155],[1405,175],[1445,155],[1462,178]]);
cube(1380,204,100,80,38,48,4,[[1412,262],[1395,228],[1420,236],[1445,232],[1455,246],[1396,273],[1420,285],[1450,280]]);
cube(1378,340,110,90,40,56,6,[[1400,400],[1384,375],[1398,380],[1418,375],[1384,420],[1398,432],[1420,425],[1428,412]]);
var ar=document.getElementById("cubes");
[[1487,98,1487,80],[1360,190,1340,190],[1512,198,1524,210],[1487,228,1487,212],[1360,298,1340,298],[1520,325,1530,336],[1487,352,1487,334],[1360,450,1340,450],[1525,482,1537,494]].forEach(function(a){el(ar,"line",{x1:a[0],y1:a[1],x2:a[2],y2:a[3],stroke:"#000","stroke-width":1.3,"marker-end":"url(#ak)"});});
var cg=document.getElementById("cgrid"),cols=["#c4c4f4","#f8c8f0","#c4c4f4"];
for(var i=0;i<3;i++)for(var j=0;j<3;j++){el(cg,"rect",{x:421+i*21,y:1266+j*21,width:16,height:16,rx:3,fill:((i+j)%2?"#f8c4f0":"#c2c2f4")});}
</script>
</body></html>
